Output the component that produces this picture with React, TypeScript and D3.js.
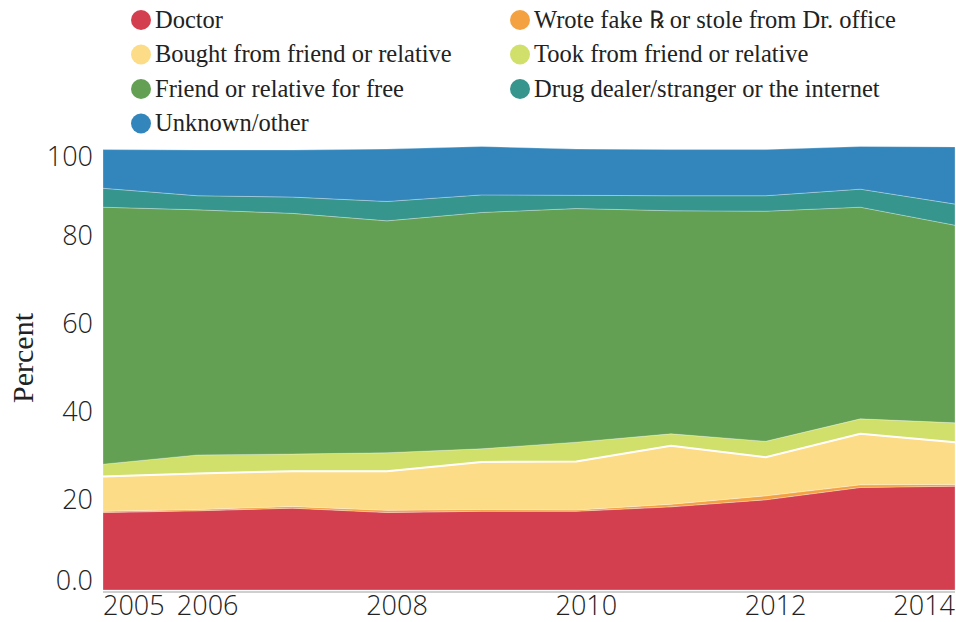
import * as d3 from 'd3';

const years = [2005, 2006, 2007, 2008, 2009, 2010, 2011, 2012, 2013, 2014];

const doctor = [17.6, 18.0, 18.6, 17.6, 17.9, 17.9, 18.9, 20.5, 23.3, 23.6];
const wroteFake = [0.3, 0.3, 0.4, 0.5, 0.4, 0.3, 0.6, 0.9, 0.6, 0.4];
const bought = [7.9, 8.2, 8.0, 8.9, 10.8, 11.0, 13.3, 8.8, 11.6, 9.6];
const took = [2.8, 4.2, 3.9, 4.2, 3.0, 4.4, 2.7, 3.6, 3.4, 4.4];
const friendFree = [58.4, 55.7, 54.7, 52.7, 53.7, 53.1, 50.7, 52.3, 48.1, 44.9];
const dealer = [4.3, 3.2, 3.7, 4.4, 4.0, 3.0, 3.4, 3.5, 4.1, 4.8];
const unknown = [8.8, 10.4, 10.7, 11.9, 11.0, 10.5, 10.5, 10.5, 9.7, 13.0];

const yTicks = [0, 20, 40, 60, 80, 100];
const xTicks = [2005, 2006, 2008, 2010, 2012, 2014];

const series = [
  { key: 'doctor', label: 'Doctor', color: '#d43f50', values: doctor },
  { key: 'wrote', label: 'Wrote fake ℞ or stole from Dr. office', color: '#f4a142', values: wroteFake },
  { key: 'bought', label: 'Bought from friend or relative', color: '#fddc88', values: bought },
  { key: 'took', label: 'Took from friend or relative', color: '#d1e06b', values: took },
  { key: 'free', label: 'Friend or relative for free', color: '#63a053', values: friendFree },
  { key: 'dealer', label: 'Drug dealer/stranger or the internet', color: '#36958c', values: dealer },
  { key: 'unknown', label: 'Unknown/other', color: '#3386bc', values: unknown },
];

// legend order as in the picture: two columns
const legendLeft = ['doctor', 'bought', 'free', 'unknown'];
const legendRight = ['wrote', 'took', 'dealer'];

export default function App() {
  const W = 956;
  const H = 622;
  const x0 = 103, x1 = 955, yTop = 150, yBottom = 590;

  const x = d3.scaleLinear().domain([2005, 2014]).range([x0, x1]);
  const y = d3.scaleLinear().domain([0, 100]).range([yBottom, yTop]);

  const rows = years.map((yr, i) => {
    const r: Record<string, number> = { year: yr };
    series.forEach(s => { r[s.key] = s.values[i]; });
    return r;
  });

  const stacked = d3.stack<Record<string, number>>().keys(series.map(s => s.key))(rows);

  const area = d3.area<d3.SeriesPoint<Record<string, number>>>()
    .x(d => x(d.data.year))
    .y0(d => y(d[0]))
    .y1(d => y(d[1]))
    .curve(d3.curveLinear);

  const topLine = d3.line<d3.SeriesPoint<Record<string, number>>>()
    .x(d => x(d.data.year))
    .y(d => y(d[1]));

  const byKey = (k: string) => series.find(s => s.key === k)!;
  const boughtLayer = stacked.find(l => l.key === 'bought')!;

  const sans = '"Open Sans", sans-serif';
  const serif = '"Liberation Serif", serif';

  return (
    <svg width={W} height={H} style={{ display: 'block', position: 'absolute', left: 0, top: 0 }}>
      {/* legend */}
      {legendLeft.map((k, i) => (
        <g key={k} transform={`translate(141, ${20 + i * 34.5})`}>
          <circle r={10} fill={byKey(k).color} />
          <text x={14} y={7.5} fontFamily={serif} fontSize={24.5} fill="#222">{byKey(k).label}</text>
        </g>
      ))}
      {legendRight.map((k, i) => (
        <g key={k} transform={`translate(520, ${20 + i * 34.5})`}>
          <circle r={10} fill={byKey(k).color} />
          <text x={14} y={7.5} fontFamily={serif} fontSize={24.5} fill="#222">{byKey(k).label}</text>
        </g>
      ))}

      {/* areas */}
      {stacked.map(layer => (
        <path
          key={layer.key}
          d={area(layer) || ''}
          fill={byKey(layer.key).color}
          stroke="#fff"
          strokeOpacity={0.35}
          strokeWidth={0.8}
        />
      ))}
      <path d={topLine(boughtLayer) || ''} fill="none" stroke="#fff" strokeWidth={2} />

      {/* x axis line */}
      <line x1={x0} x2={x1} y1={yBottom + 2} y2={yBottom + 2} stroke="#cfcfcf" strokeWidth={2} />

      {/* y ticks */}
      {yTicks.map((t, i) => {
        // end labels are kept inside the plot height
        const ty = i === 0 ? y(t) : i === yTicks.length - 1 ? y(t) + 16 : y(t) + 7;
        return (
          <text key={t} x={93} y={ty} textAnchor="end" fontFamily={sans} fontWeight={300}
            fontSize={27} fill="#222">{t === 0 ? '0.0' : t}</text>
        );
      })}

      {/* x ticks */}
      {xTicks.map((t, i) => {
        const anchor = i === 0 ? 'start' : i === xTicks.length - 1 ? 'end' : 'middle';
        const tx = i === 0 || i === xTicks.length - 1 ? x(t) : x(t) + 10;
        return (
          <text key={t} x={tx} y={615} textAnchor={anchor} fontFamily={sans} fontWeight={300}
            fontSize={27} fill="#222">{t}</text>
        );
      })}

      <text transform={`translate(33, ${358}) rotate(-90)`} textAnchor="middle" fontFamily={serif}
        fontSize={30} fill="#222">Percent</text>
    </svg>
  );
}
